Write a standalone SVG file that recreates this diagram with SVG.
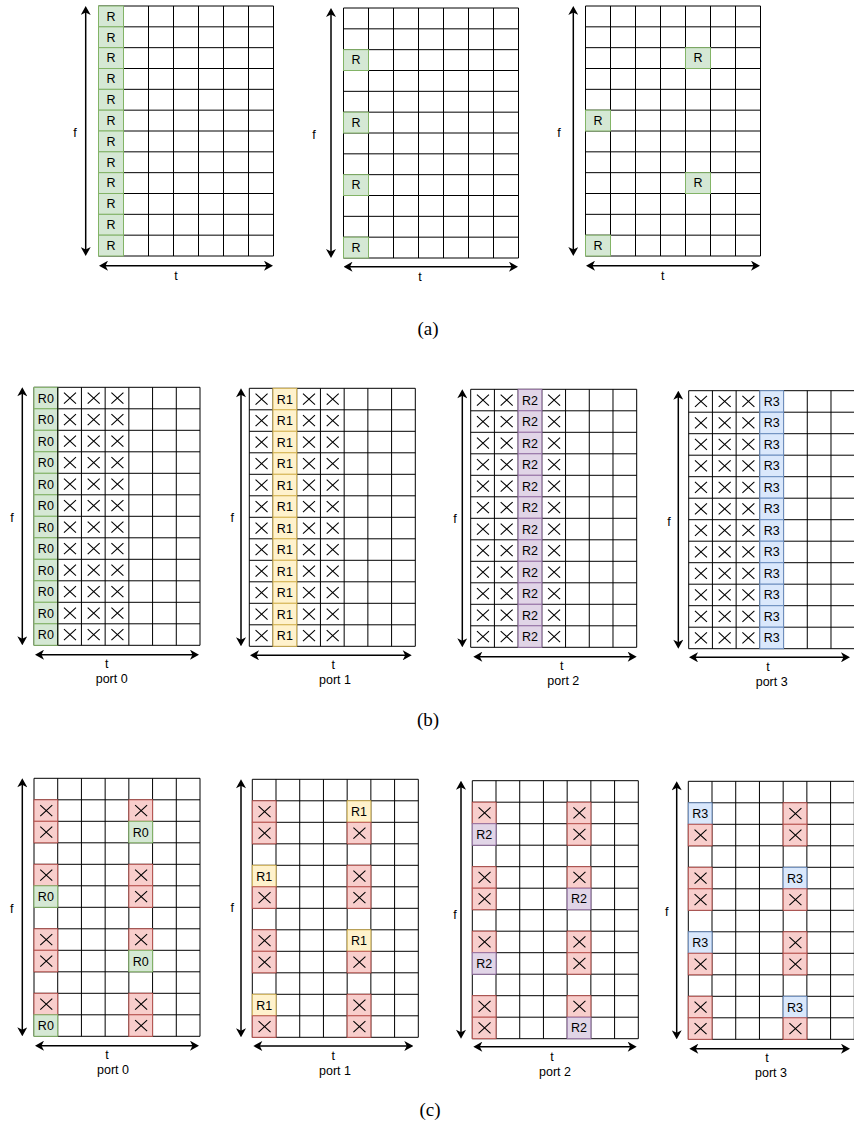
<svg xmlns="http://www.w3.org/2000/svg" xmlns:xlink="http://www.w3.org/1999/xlink" width="854" height="1128" viewBox="0 0 854 1128">
<style>
.grid{fill:#fff;stroke:#000;stroke-width:1}
.g{fill:#d5e8d4;stroke:#82b366}
.r{fill:#f8cecc;stroke:#b85450}
.y{fill:#fff2cc;stroke:#d6b656}
.p{fill:#e1d5e7;stroke:#9673a6}
.b{fill:#dae8fc;stroke:#6c8ebf}
.l{font-family:"Liberation Sans",Arial,sans-serif;font-size:12.5px;fill:#000;text-anchor:middle}
.cap{font-family:"Liberation Serif","Times New Roman",serif;font-size:19px;fill:#000;text-anchor:middle}
.ax{stroke:#000;stroke-width:1.5;fill:none;marker-start:url(#ah);marker-end:url(#ah)}
</style>
<defs>
<marker id="ah" viewBox="-5 -5 10 10" refX="0" refY="0" markerWidth="10" markerHeight="10" markerUnits="userSpaceOnUse" orient="auto-start-reverse">
<path d="M5,0 L-4,-5 L-1.5,0 L-4,5 Z" fill="#000"/>
</marker>
<path id="gridA" class="grid" d="M0,0H175V250H0Z M25,0V250 M50,0V250 M75,0V250 M100,0V250 M125,0V250 M150,0V250 M0,20.833H175 M0,41.667H175 M0,62.5H175 M0,83.333H175 M0,104.167H175 M0,125H175 M0,145.833H175 M0,166.667H175 M0,187.5H175 M0,208.333H175 M0,229.167H175"/>
<path id="gridB" class="grid" d="M0,0H166V258H0Z M23.714,0V258 M47.429,0V258 M71.143,0V258 M94.857,0V258 M118.571,0V258 M142.286,0V258 M0,21.5H166 M0,43H166 M0,64.5H166 M0,86H166 M0,107.5H166 M0,129H166 M0,150.5H166 M0,172H166 M0,193.5H166 M0,215H166 M0,236.5H166"/>
<rect id="cA" width="25" height="20.833"/>
<rect id="cB" width="23.714" height="21.5"/>
<path id="xm" d="M-6,-5.5L6,5.5M-6,5.5L6,-5.5" fill="none" stroke="#000" stroke-width="1.1"/>
<g id="xcol">
<use href="#xm" y="10.75"/><use href="#xm" y="32.25"/><use href="#xm" y="53.75"/><use href="#xm" y="75.25"/><use href="#xm" y="96.75"/><use href="#xm" y="118.25"/><use href="#xm" y="139.75"/><use href="#xm" y="161.25"/><use href="#xm" y="182.75"/><use href="#xm" y="204.25"/><use href="#xm" y="225.75"/><use href="#xm" y="247.25"/>
</g>
<g id="colB">
<use href="#cB" y="0"/><use href="#cB" y="21.5"/><use href="#cB" y="43"/><use href="#cB" y="64.5"/><use href="#cB" y="86"/><use href="#cB" y="107.5"/><use href="#cB" y="129"/><use href="#cB" y="150.5"/><use href="#cB" y="172"/><use href="#cB" y="193.5"/><use href="#cB" y="215"/><use href="#cB" y="236.5"/>
</g>
<g id="xc"><use href="#cB"/><use href="#xm" x="12.26" y="10.75"/></g>
</defs>

<!-- (a) panel 1 -->
<g id="a1">
<g transform="translate(98.5,6)">
<use href="#gridA"/>
<use href="#cA" class="g" y="0"/><use href="#cA" class="g" y="20.833"/><use href="#cA" class="g" y="41.667"/><use href="#cA" class="g" y="62.5"/><use href="#cA" class="g" y="83.333"/><use href="#cA" class="g" y="104.167"/><use href="#cA" class="g" y="125"/><use href="#cA" class="g" y="145.833"/><use href="#cA" class="g" y="166.667"/><use href="#cA" class="g" y="187.5"/><use href="#cA" class="g" y="208.333"/><use href="#cA" class="g" y="229.167"/>
<text class="l" x="12.5" y="14.82">R</text><text class="l" x="12.5" y="35.65">R</text><text class="l" x="12.5" y="56.48">R</text><text class="l" x="12.5" y="77.32">R</text><text class="l" x="12.5" y="98.15">R</text><text class="l" x="12.5" y="118.98">R</text><text class="l" x="12.5" y="139.82">R</text><text class="l" x="12.5" y="160.65">R</text><text class="l" x="12.5" y="181.48">R</text><text class="l" x="12.5" y="202.32">R</text><text class="l" x="12.5" y="223.15">R</text><text class="l" x="12.5" y="243.98">R</text>
</g>
<text class="l" x="75" y="137">f</text>
<text class="l" x="176" y="280">t</text>
</g>

<!-- (a) panel 2 -->
<g id="a2">
<g transform="translate(343.5,8)">
<use href="#gridA"/>
<use href="#cA" class="g" y="41.667"/><use href="#cA" class="g" y="104.167"/><use href="#cA" class="g" y="166.667"/><use href="#cA" class="g" y="229.167"/>
<text class="l" x="12.5" y="56.48">R</text><text class="l" x="12.5" y="118.98">R</text><text class="l" x="12.5" y="181.48">R</text><text class="l" x="12.5" y="243.98">R</text>
</g>
<text class="l" x="314" y="139">f</text>
<text class="l" x="420" y="281">t</text>
</g>

<!-- (a) panel 3 -->
<g id="a3">
<g transform="translate(585.5,6)">
<use href="#gridA"/>
<use href="#cA" class="g" x="100" y="41.667"/><use href="#cA" class="g" x="0" y="104.167"/><use href="#cA" class="g" x="100" y="166.667"/><use href="#cA" class="g" x="0" y="229.167"/>
<text class="l" x="112.5" y="56.48">R</text><text class="l" x="12.5" y="118.98">R</text><text class="l" x="112.5" y="181.48">R</text><text class="l" x="12.5" y="243.98">R</text>
</g>
<text class="l" x="559" y="137">f</text>
<text class="l" x="662.7" y="280">t</text>
</g>

<text class="cap" x="428" y="335">(a)</text>

<!-- (b) port 0 -->
<g id="b0">
<g transform="translate(34,387.3)">
<use href="#gridB"/>
<use href="#colB" class="g" x="0"/>
<path d="M23.714,0V258" stroke="#000" stroke-width="1"/>
<use href="#xcol" x="35.97"/><use href="#xcol" x="59.69"/><use href="#xcol" x="83.4"/>
<text class="l" x="11.86" y="15.25">R0</text><text class="l" x="11.86" y="36.75">R0</text><text class="l" x="11.86" y="58.25">R0</text><text class="l" x="11.86" y="79.75">R0</text><text class="l" x="11.86" y="101.25">R0</text><text class="l" x="11.86" y="122.75">R0</text><text class="l" x="11.86" y="144.25">R0</text><text class="l" x="11.86" y="165.75">R0</text><text class="l" x="11.86" y="187.25">R0</text><text class="l" x="11.86" y="208.75">R0</text><text class="l" x="11.86" y="230.25">R0</text><text class="l" x="11.86" y="251.75">R0</text>
</g>
<text class="l" x="12" y="522">f</text>
<text class="l" x="106.7" y="668">t</text>
<text class="l" x="111.7" y="683">port 0</text>
</g>

<!-- (b) port 1 -->
<g id="b1">
<g transform="translate(249.3,388.3)">
<use href="#gridB"/>
<use href="#colB" class="y" x="23.714"/>
<use href="#xcol" x="12.26"/><use href="#xcol" x="59.69"/><use href="#xcol" x="83.4"/>
<text class="l" x="35.57" y="15.25">R1</text><text class="l" x="35.57" y="36.75">R1</text><text class="l" x="35.57" y="58.25">R1</text><text class="l" x="35.57" y="79.75">R1</text><text class="l" x="35.57" y="101.25">R1</text><text class="l" x="35.57" y="122.75">R1</text><text class="l" x="35.57" y="144.25">R1</text><text class="l" x="35.57" y="165.75">R1</text><text class="l" x="35.57" y="187.25">R1</text><text class="l" x="35.57" y="208.75">R1</text><text class="l" x="35.57" y="230.25">R1</text><text class="l" x="35.57" y="251.75">R1</text>
</g>
<text class="l" x="232.3" y="522">f</text>
<text class="l" x="333.3" y="669">t</text>
<text class="l" x="335" y="684">port 1</text>
</g>

<!-- (b) port 2 -->
<g id="b2">
<g transform="translate(470.7,389.3)">
<use href="#gridB"/>
<use href="#colB" class="p" x="47.429"/>
<use href="#xcol" x="12.26"/><use href="#xcol" x="35.97"/><use href="#xcol" x="83.4"/>
<text class="l" x="59.29" y="15.25">R2</text><text class="l" x="59.29" y="36.75">R2</text><text class="l" x="59.29" y="58.25">R2</text><text class="l" x="59.29" y="79.75">R2</text><text class="l" x="59.29" y="101.25">R2</text><text class="l" x="59.29" y="122.75">R2</text><text class="l" x="59.29" y="144.25">R2</text><text class="l" x="59.29" y="165.75">R2</text><text class="l" x="59.29" y="187.25">R2</text><text class="l" x="59.29" y="208.75">R2</text><text class="l" x="59.29" y="230.25">R2</text><text class="l" x="59.29" y="251.75">R2</text>
</g>
<text class="l" x="455" y="523">f</text>
<text class="l" x="561.7" y="670">t</text>
<text class="l" x="563.3" y="685">port 2</text>
</g>

<!-- (b) port 3 -->
<g id="b3">
<g transform="translate(688.7,390.7)">
<use href="#gridB"/>
<use href="#colB" class="b" x="71.143"/>
<use href="#xcol" x="12.26"/><use href="#xcol" x="35.97"/><use href="#xcol" x="59.69"/>
<text class="l" x="83" y="15.25">R3</text><text class="l" x="83" y="36.75">R3</text><text class="l" x="83" y="58.25">R3</text><text class="l" x="83" y="79.75">R3</text><text class="l" x="83" y="101.25">R3</text><text class="l" x="83" y="122.75">R3</text><text class="l" x="83" y="144.25">R3</text><text class="l" x="83" y="165.75">R3</text><text class="l" x="83" y="187.25">R3</text><text class="l" x="83" y="208.75">R3</text><text class="l" x="83" y="230.25">R3</text><text class="l" x="83" y="251.75">R3</text>
</g>
<text class="l" x="669" y="526">f</text>
<text class="l" x="768" y="671">t</text>
<text class="l" x="771.7" y="686">port 3</text>
</g>

<text class="cap" x="428" y="726">(b)</text>

<!-- (c) port 0 -->
<g id="c0">
<g transform="translate(34,778.3)">
<use href="#gridB"/>
<use href="#xc" class="r" x="0" y="21.5"/><use href="#xc" class="r" x="94.857" y="21.5"/>
<use href="#xc" class="r" x="0" y="43"/><use href="#cB" class="g" x="94.857" y="43"/>
<use href="#xc" class="r" x="0" y="86"/><use href="#xc" class="r" x="94.857" y="86"/>
<use href="#cB" class="g" x="0" y="107.5"/><use href="#xc" class="r" x="94.857" y="107.5"/>
<use href="#xc" class="r" x="0" y="150.5"/><use href="#xc" class="r" x="94.857" y="150.5"/>
<use href="#xc" class="r" x="0" y="172"/><use href="#cB" class="g" x="94.857" y="172"/>
<use href="#xc" class="r" x="0" y="215"/><use href="#xc" class="r" x="94.857" y="215"/>
<use href="#cB" class="g" x="0" y="236.5"/><use href="#xc" class="r" x="94.857" y="236.5"/>
<text class="l" x="106.71" y="58.25">R0</text>
<text class="l" x="11.86" y="122.75">R0</text>
<text class="l" x="106.71" y="187.25">R0</text>
<text class="l" x="11.86" y="251.75">R0</text>
</g>
<text class="l" x="11.7" y="913">f</text>
<text class="l" x="107" y="1059">t</text>
<text class="l" x="113" y="1074">port 0</text>
</g>

<!-- (c) port 1 -->
<g id="c1">
<g transform="translate(252.3,779.3)">
<use href="#gridB"/>
<use href="#xc" class="r" x="0" y="21.5"/><use href="#cB" class="y" x="94.857" y="21.5"/>
<use href="#xc" class="r" x="0" y="43"/><use href="#xc" class="r" x="94.857" y="43"/>
<use href="#cB" class="y" x="0" y="86"/><use href="#xc" class="r" x="94.857" y="86"/>
<use href="#xc" class="r" x="0" y="107.5"/><use href="#xc" class="r" x="94.857" y="107.5"/>
<use href="#xc" class="r" x="0" y="150.5"/><use href="#cB" class="y" x="94.857" y="150.5"/>
<use href="#xc" class="r" x="0" y="172"/><use href="#xc" class="r" x="94.857" y="172"/>
<use href="#cB" class="y" x="0" y="215"/><use href="#xc" class="r" x="94.857" y="215"/>
<use href="#xc" class="r" x="0" y="236.5"/><use href="#xc" class="r" x="94.857" y="236.5"/>
<text class="l" x="106.71" y="36.75">R1</text>
<text class="l" x="11.86" y="101.25">R1</text>
<text class="l" x="106.71" y="165.75">R1</text>
<text class="l" x="11.86" y="230.25">R1</text>
</g>
<text class="l" x="232.3" y="912">f</text>
<text class="l" x="333.3" y="1060">t</text>
<text class="l" x="335" y="1075">port 1</text>
</g>

<!-- (c) port 2 -->
<g id="c2">
<g transform="translate(472.3,780.7)">
<use href="#gridB"/>
<use href="#xc" class="r" x="0" y="21.5"/><use href="#xc" class="r" x="94.857" y="21.5"/>
<use href="#cB" class="p" x="0" y="43"/><use href="#xc" class="r" x="94.857" y="43"/>
<use href="#xc" class="r" x="0" y="86"/><use href="#xc" class="r" x="94.857" y="86"/>
<use href="#xc" class="r" x="0" y="107.5"/><use href="#cB" class="p" x="94.857" y="107.5"/>
<use href="#xc" class="r" x="0" y="150.5"/><use href="#xc" class="r" x="94.857" y="150.5"/>
<use href="#cB" class="p" x="0" y="172"/><use href="#xc" class="r" x="94.857" y="172"/>
<use href="#xc" class="r" x="0" y="215"/><use href="#xc" class="r" x="94.857" y="215"/>
<use href="#xc" class="r" x="0" y="236.5"/><use href="#cB" class="p" x="94.857" y="236.5"/>
<text class="l" x="11.86" y="58.25">R2</text>
<text class="l" x="106.71" y="122.75">R2</text>
<text class="l" x="11.86" y="187.25">R2</text>
<text class="l" x="106.71" y="251.75">R2</text>
</g>
<text class="l" x="455" y="919">f</text>
<text class="l" x="552" y="1061">t</text>
<text class="l" x="555" y="1076">port 2</text>
</g>

<!-- (c) port 3 -->
<g id="c3">
<g transform="translate(688.3,781.3)">
<use href="#gridB"/>
<use href="#cB" class="b" x="0" y="21.5"/><use href="#xc" class="r" x="94.857" y="21.5"/>
<use href="#xc" class="r" x="0" y="43"/><use href="#xc" class="r" x="94.857" y="43"/>
<use href="#xc" class="r" x="0" y="86"/><use href="#cB" class="b" x="94.857" y="86"/>
<use href="#xc" class="r" x="0" y="107.5"/><use href="#xc" class="r" x="94.857" y="107.5"/>
<use href="#cB" class="b" x="0" y="150.5"/><use href="#xc" class="r" x="94.857" y="150.5"/>
<use href="#xc" class="r" x="0" y="172"/><use href="#xc" class="r" x="94.857" y="172"/>
<use href="#xc" class="r" x="0" y="215"/><use href="#cB" class="b" x="94.857" y="215"/>
<use href="#xc" class="r" x="0" y="236.5"/><use href="#xc" class="r" x="94.857" y="236.5"/>
<text class="l" x="11.86" y="36.75">R3</text>
<text class="l" x="106.71" y="101.25">R3</text>
<text class="l" x="11.86" y="165.75">R3</text>
<text class="l" x="106.71" y="230.25">R3</text>
</g>
<text class="l" x="666.7" y="916">f</text>
<text class="l" x="767" y="1062">t</text>
<text class="l" x="771" y="1077">port 3</text>
</g>

<text class="cap" x="430" y="1116">(c)</text>

<g id="connectors">
<line class="ax" x1="85.7" y1="11" x2="85.7" y2="251"/>
<line class="ax" x1="104" y1="265.7" x2="268" y2="265.7"/>
<line class="ax" x1="331" y1="13" x2="331" y2="253"/>
<line class="ax" x1="348.5" y1="266.7" x2="513" y2="266.7"/>
<line class="ax" x1="573.3" y1="11" x2="573.3" y2="251"/>
<line class="ax" x1="591" y1="265.7" x2="755" y2="265.7"/>

<line class="ax" x1="22.3" y1="392.3" x2="22.3" y2="640.3"/>
<line class="ax" x1="40" y1="654.7" x2="194" y2="654.7"/>
<line class="ax" x1="241" y1="393.3" x2="241" y2="641.3"/>
<line class="ax" x1="255" y1="655.3" x2="406.7" y2="655.3"/>
<line class="ax" x1="462.3" y1="394.3" x2="462.3" y2="642.3"/>
<line class="ax" x1="478.3" y1="656.7" x2="631.7" y2="656.7"/>
<line class="ax" x1="678.3" y1="395.7" x2="678.3" y2="643.7"/>
<line class="ax" x1="694" y1="657.3" x2="845" y2="657.3"/>

<line class="ax" x1="22.3" y1="783.3" x2="22.3" y2="1031.3"/>
<line class="ax" x1="40" y1="1045.7" x2="194" y2="1045.7"/>
<line class="ax" x1="241" y1="784.3" x2="241" y2="1032.3"/>
<line class="ax" x1="258.3" y1="1046" x2="408.3" y2="1046"/>
<line class="ax" x1="461" y1="785.7" x2="461" y2="1033.7"/>
<line class="ax" x1="478.3" y1="1046.7" x2="631.7" y2="1046.7"/>
<line class="ax" x1="676.7" y1="786.3" x2="676.7" y2="1034.3"/>
<line class="ax" x1="694.3" y1="1048.7" x2="845" y2="1048.7"/>
</g>
</svg>
